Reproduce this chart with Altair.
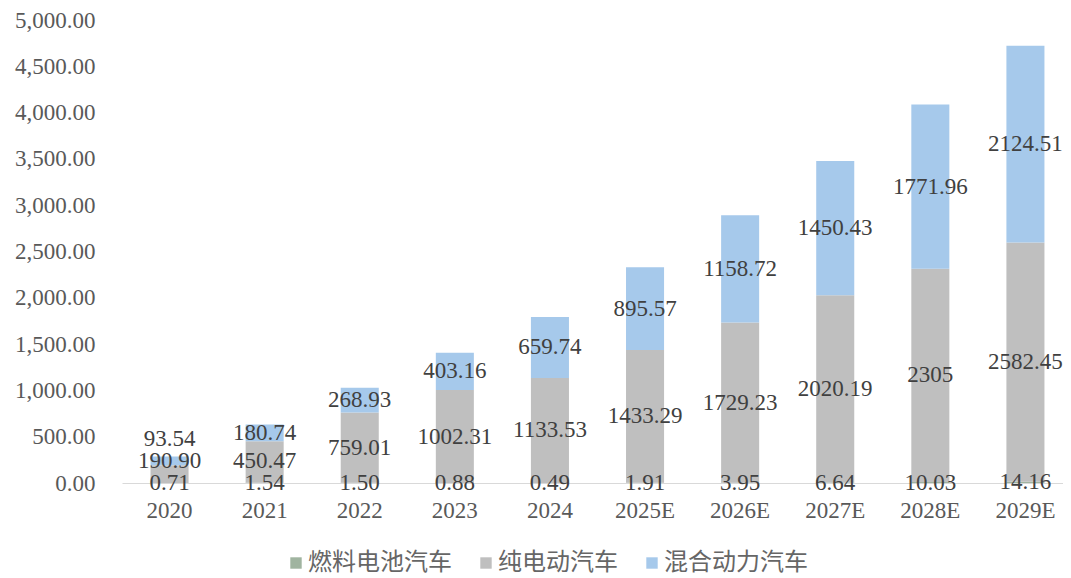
import altair as alt
import pandas as pd

years = ["2020", "2021", "2022", "2023", "2024", "2025E", "2026E", "2027E", "2028E", "2029E"]
fuel_cell = [0.71, 1.54, 1.50, 0.88, 0.49, 1.91, 3.95, 6.64, 10.03, 14.16]
bev = [190.90, 450.47, 759.01, 1002.31, 1133.53, 1433.29, 1729.23, 2020.19, 2305, 2582.45]
hybrid = [93.54, 180.74, 268.93, 403.16, 659.74, 895.57, 1158.72, 1450.43, 1771.96, 2124.51]
series_names = ["燃料电池汽车", "纯电动汽车", "混合动力汽车"]
colors = ["#A0B4A0", "#BFBFBF", "#A6C9EB"]
y_ticks = [0, 500, 1000, 1500, 2000, 2500, 3000, 3500, 4000, 4500, 5000]

MIN_GAP = 240  # minimum label separation (data units) to avoid overlapping labels

rows = []
for i, yr in enumerate(years):
    base = 0.0
    prev_label = None
    for s, vals in zip(series_names, [fuel_cell, bev, hybrid]):
        v = vals[i]
        mid = base + v / 2
        ly = mid if prev_label is None else max(mid, prev_label + MIN_GAP)
        prev_label = ly
        txt = str(int(v)) if float(v).is_integer() and v > 100 else f"{v:.2f}"
        rows.append({"year": yr, "series": s, "y0": base, "y1": base + v,
                     "label_y": ly, "text": txt, "order": series_names.index(s)})
        base += v
df = pd.DataFrame(rows)

serif = "Liberation Serif"
cjk = "Noto Sans CJK SC"

x_enc = alt.X("year:N", sort=years,
              scale=alt.Scale(paddingInner=0.6, paddingOuter=0.2475, align=0.606),
              axis=alt.Axis(title=None, labelAngle=0, ticks=False, domain=True,
                            domainColor="#D9D9D9", domainWidth=1.2,
                            labelFont=serif, labelFontSize=23, labelColor="#595959",
                            labelPadding=16, grid=False))

bars = alt.Chart(df).mark_bar().encode(
    x=x_enc,
    y=alt.Y("y0:Q", scale=alt.Scale(domain=[0, 5000], nice=False),
            axis=alt.Axis(title=None, values=y_ticks, format=",.2f", grid=False,
                          domain=False, ticks=False, labelPadding=27,
                          labelFont=serif, labelFontSize=23, labelColor="#595959")),
    y2="y1:Q",
    color=alt.Color("series:N",
                    scale=alt.Scale(domain=series_names, range=colors),
                    legend=alt.Legend(title=None, orient="none", direction="horizontal",
                                      legendX=162, legendY=531,
                                      symbolType="square", symbolSize=130,
                                      symbolStrokeWidth=0,
                                      labelFont=cjk, labelFontSize=24,
                                      labelColor="#666666", labelOffset=0,
                                      columnPadding=22)),
    order="order:Q",
)

labels = alt.Chart(df).mark_text(font=serif, fontSize=23, color="#404040",
                                 baseline="middle", align="center").encode(
    x=alt.X("year:N", sort=years),
    y=alt.Y("label_y:Q"),
    text="text:N",
)

chart = alt.layer(bars, labels).properties(
    width=941, height=463,
    autosize=alt.AutoSizeParams(type="none"),
    padding={"left": 114, "top": 12, "right": 0, "bottom": 95},
).configure_view(stroke=None)

chart.save("out.html", embed_options={"renderer": "svg", "actions": False})
